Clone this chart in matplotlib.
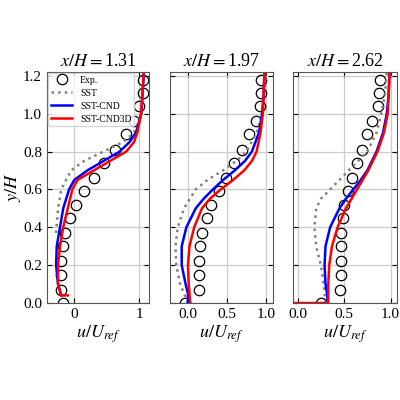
import matplotlib
matplotlib.use("Agg")
import matplotlib.pyplot as plt
import numpy as np

plt.rcParams['font.family'] = ['Liberation Serif', 'DejaVu Serif']
plt.rcParams['mathtext.fontset'] = 'stix'

titles = ["1.31", "1.97", "2.62"]
exp_y = [0.0, 0.07, 0.15, 0.22, 0.30, 0.37, 0.45, 0.52, 0.59, 0.66, 0.74, 0.81, 0.89, 0.96, 1.04, 1.11, 1.18]
exp_u1 = [-0.18, -0.2, -0.2, -0.2, -0.18, -0.15, -0.07, 0.02, 0.15, 0.30, 0.45, 0.62, 0.80, 0.92, 1.0, 1.05, 1.05]
exp_u2 = [-0.04, 0.145, 0.145, 0.145, 0.15, 0.18, 0.24, 0.30, 0.40, 0.49, 0.59, 0.69, 0.78, 0.87, 0.92, 0.93, 0.94]
exp_u3 = [0.25, 0.46, 0.47, 0.47, 0.47, 0.47, 0.49, 0.50, 0.54, 0.58, 0.64, 0.69, 0.75, 0.80, 0.86, 0.88, 0.89]

# panel 1
cnd_y1 = [0.04, 0.1, 0.2, 0.3, 0.4, 0.5, 0.6, 0.65, 0.7, 0.75, 0.8, 0.85, 0.9, 1.0, 1.1, 1.22]
cnd_u1 = [-0.2, -0.25, -0.28, -0.27, -0.22, -0.17, -0.08, 0.0, 0.2, 0.45, 0.7, 0.85, 0.95, 1.03, 1.05, 1.07]
c3d_y1 = [0.04, 0.04, 0.1, 0.2, 0.3, 0.4, 0.5, 0.6, 0.65, 0.7, 0.75, 0.8, 0.85, 0.9, 1.0, 1.1, 1.22]
c3d_u1 = [-0.1, -0.2, -0.25, -0.25, -0.22, -0.17, -0.1, -0.03, 0.05, 0.3, 0.55, 0.8, 0.92, 0.97, 1.03, 1.05, 1.07]
sst_y1 = [0.37, 0.5, 0.6, 0.7, 0.75, 0.8, 0.85, 0.9, 1.0, 1.1, 1.22]
sst_u1 = [-0.28, -0.25, -0.2, -0.05, 0.15, 0.45, 0.75, 0.92, 1.03, 1.05, 1.07]
# panel 2
cnd_y2 = [0.0, 0.05, 0.1, 0.2, 0.3, 0.4, 0.5, 0.55, 0.6, 0.65, 0.7, 0.75, 0.8, 0.9, 1.0, 1.1, 1.22]
cnd_u2 = [0.0, 0.0, -0.03, -0.08, -0.08, -0.02, 0.1, 0.2, 0.32, 0.45, 0.6, 0.73, 0.82, 0.91, 0.95, 0.97, 0.98]
c3d_y2 = [0.0, 0.1, 0.2, 0.3, 0.4, 0.5, 0.55, 0.6, 0.65, 0.7, 0.75, 0.8, 0.9, 1.0, 1.1, 1.22]
c3d_u2 = [0.03, 0.01, 0.0, 0.02, 0.08, 0.18, 0.28, 0.42, 0.58, 0.72, 0.82, 0.88, 0.93, 0.96, 0.97, 0.98]
sst_y2 = [0.0, 0.1, 0.2, 0.3, 0.4, 0.5, 0.6, 0.65, 0.7, 0.75, 0.8, 0.9, 1.0, 1.1, 1.22]
sst_u2 = [0.0, -0.1, -0.15, -0.16, -0.13, -0.05, 0.1, 0.25, 0.45, 0.62, 0.75, 0.88, 0.95, 0.98, 1.0]
# panel 3
cnd_y3 = [0.0, 0.04, 0.1, 0.2, 0.3, 0.4, 0.5, 0.55, 0.6, 0.65, 0.7, 0.8, 0.9, 1.0, 1.1, 1.22]
cnd_u3 = [0.32, 0.32, 0.30, 0.29, 0.30, 0.35, 0.45, 0.52, 0.60, 0.68, 0.75, 0.85, 0.92, 0.96, 0.98, 0.99]
c3d_y3 = [0.0, 0.0, 0.1, 0.2, 0.3, 0.4, 0.5, 0.6, 0.65, 0.7, 0.8, 0.9, 1.0, 1.1, 1.22]
c3d_u3 = [-0.05, 0.33, 0.33, 0.34, 0.37, 0.43, 0.52, 0.64, 0.70, 0.76, 0.86, 0.93, 0.97, 0.98, 0.99]
sst_y3 = [0.0, 0.1, 0.2, 0.3, 0.4, 0.5, 0.55, 0.6, 0.65, 0.7, 0.8, 0.9, 1.0, 1.1, 1.22]
sst_u3 = [0.30, 0.28, 0.25, 0.20, 0.18, 0.20, 0.25, 0.35, 0.45, 0.55, 0.75, 0.85, 0.90, 0.94, 0.96]

panels = [
    (exp_u1, sst_u1, sst_y1, cnd_u1, cnd_y1, c3d_u1, c3d_y1, (-0.42, 1.15), [0, 1], ["0", "1"]),
    (exp_u2, sst_u2, sst_y2, cnd_u2, cnd_y2, c3d_u2, c3d_y2, (-0.23, 1.09), [0, 0.5, 1], ["0.0", "0.5", "1.0"]),
    (exp_u3, sst_u3, sst_y3, cnd_u3, cnd_y3, c3d_u3, c3d_y3, (-0.05, 1.07), [0, 0.5, 1], ["0.0", "0.5", "1.0"]),
]
lefts = [0.1175, 0.425, 0.7325]
widths = [0.255, 0.2575, 0.26]

fig = plt.figure(figsize=(4, 4), dpi=100)
for i, (eu, su, sy, cu, cy, ru, ry, xl, xt, xtl) in enumerate(panels):
    ax = fig.add_axes([lefts[i], 0.2425, widths[i], 0.5775])
    ax.grid(True, color='#cccccc', lw=0.9)
    ax.set_axisbelow(True)
    ax.plot(eu, exp_y, 'o', mfc='none', mec='black', ms=7.5, mew=0.9, label='Exp.')
    ax.plot(su, sy, ':', color='gray', lw=1.8, label='SST')
    ax.plot(cu, cy, '-', color='blue', lw=1.8, label='SST-CND')
    ax.plot(ru, ry, '-', color='red', lw=1.8, label='SST-CND3D')
    ax.set_xlim(*xl)
    ax.set_ylim(0, 1.22)
    ax.set_xticks(xt)
    ax.set_xticklabels(xtl)
    ax.set_yticks([0, 0.2, 0.4, 0.6, 0.8, 1.0, 1.2])
    ax.tick_params(direction='in', labelsize=11, top=True, right=True)
    for s in ax.spines.values():
        s.set_color('#555555')
    if i == 0:
        ax.set_ylabel('$y/H$', fontsize=13, labelpad=0)
        ax.legend(loc='upper left', fontsize=7, framealpha=0.8, borderpad=0.3,
                  handlelength=2.2, labelspacing=0.4, borderaxespad=0.1)
    else:
        ax.set_yticklabels([])
    ax.set_xlabel('$u/U_{ref}$', fontsize=13, labelpad=2)
    ax.set_title('$x/H = $' + titles[i], fontsize=13, pad=4)

fig.savefig('out.png', dpi=100)
